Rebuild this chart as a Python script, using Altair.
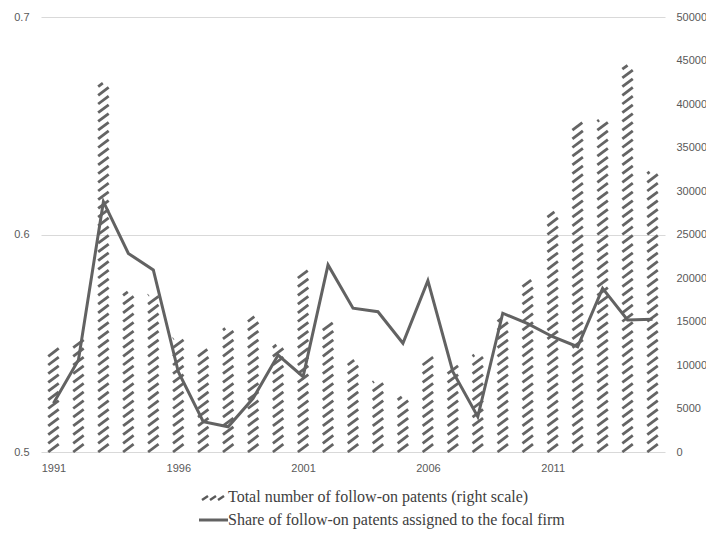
import altair as alt
import pandas as pd

years = list(range(1991, 2016))
patents = [11900, 12900, 42400, 18400, 18050, 13050, 11800, 14200, 15550, 12300,
           20850, 14850, 10550, 8100, 6350, 10900, 9900, 11150, 15350, 19750,
           27600, 37850, 38150, 44450, 32200]
share = [0.5224, 0.5423, 0.6151, 0.5913, 0.5837, 0.5369, 0.5139, 0.5116, 0.5247, 0.5446,
         0.5346, 0.5860, 0.5661, 0.5645, 0.5500, 0.5788, 0.5369, 0.5162, 0.5638, 0.5590,
         0.5530, 0.5484, 0.5752, 0.5607, 0.5610]
x_ticks = [1991, 1996, 2001, 2006, 2011]
left_ticks = [0.5, 0.6, 0.7]
right_ticks = list(range(0, 50001, 5000))
legend_bar = "Total number of follow-on patents (right scale)"
legend_line = "Share of follow-on patents assigned to the focal firm"

# hatch stripes derived from the bar values (clipped to each bar)
SPACING = 1000
RISE = 900
HALF = 0.21
rows = []
for yr, v in zip(years, patents):
    k = -1
    while k * SPACING < v:
        base = k * SPACING
        y0, y1 = base, base + RISE
        xa, xb = yr - HALF, yr + HALF
        if y0 < 0:
            xa = (yr - HALF) + (0 - base) / RISE * 2 * HALF
            y0 = 0
        if y1 > v:
            xb = (yr - HALF) + (v - base) / RISE * 2 * HALF
            y1 = v
        if y1 > y0:
            rows.append({"x": xa, "x2": xb, "y": y0, "y2": y1})
        k += 1
stripes = pd.DataFrame(rows)
line_df = pd.DataFrame({"year": years, "share": share})

FONT = "Liberation Sans"
xscale = alt.Scale(domain=[1990.5, 2015.5], nice=False, zero=False)
xaxis = alt.Axis(values=x_ticks, format="d", grid=False, domain=False, ticks=False,
                 labelPadding=10, title=None, labelFontSize=11, labelFont=FONT,
                 labelColor="#595959")

bars = alt.Chart(stripes).mark_rule(color="#646464", strokeWidth=2.8, strokeCap="butt").encode(
    x=alt.X("x:Q", scale=xscale, axis=xaxis),
    x2="x2:Q",
    y=alt.Y("y:Q", scale=alt.Scale(domain=[0, 50000], nice=False),
            axis=alt.Axis(orient="right", values=right_ticks, format="d", grid=False,
                          domain=False, ticks=False, labelPadding=11, title=None)),
    y2="y2:Q",
)

line = alt.Chart(line_df).mark_line(color="#626262", strokeWidth=3, strokeJoin="miter").encode(
    x=alt.X("year:Q", scale=xscale, axis=xaxis),
    y=alt.Y("share:Q", scale=alt.Scale(domain=[0.5, 0.7], nice=False, zero=False),
            axis=alt.Axis(orient="left", values=left_ticks, format=".1f", grid=True,
                          gridColor="#d9d9d9", gridWidth=1, domain=False, ticks=False,
                          labelPadding=12, title=None)),
)

one = pd.DataFrame({"a": [0]})
leg_text1 = alt.Chart(pd.DataFrame({"t": [legend_bar]})).mark_text(
    align="left", baseline="middle", font="Liberation Serif", fontSize=16, color="#404040"
).encode(x=alt.value(187), y=alt.value(480), text="t:N")
leg_text2 = alt.Chart(pd.DataFrame({"t": [legend_line]})).mark_text(
    align="left", baseline="middle", font="Liberation Serif", fontSize=16, color="#404040"
).encode(x=alt.value(187), y=alt.value(503), text="t:N")
leg_line = alt.Chart(one).mark_rule(color="#626262", strokeWidth=3).encode(
    x=alt.value(158), x2=alt.value(187), y=alt.value(503), y2=alt.value(503))
leg_h = [
    alt.Chart(one).mark_rule(color="#5a5a5a", strokeWidth=2.4).encode(
        x=alt.value(x0), x2=alt.value(x0 + 6), y=alt.value(483), y2=alt.value(479))
    for x0 in (161, 169, 177)
]

chart = alt.layer(bars, line, leg_text1, leg_text2, leg_line, *leg_h).resolve_scale(
    y="independent"
).properties(
    width=624, height=435,
    autosize=alt.AutoSizeParams(type="none"),
    padding={"left": 41, "top": 17, "right": 41, "bottom": 82},
).configure_view(stroke=None).configure_axis(
    labelFont=FONT, labelFontSize=11, labelColor="#595959"
)

chart.save("out.html", embed_options={"renderer": "svg", "actions": False})
